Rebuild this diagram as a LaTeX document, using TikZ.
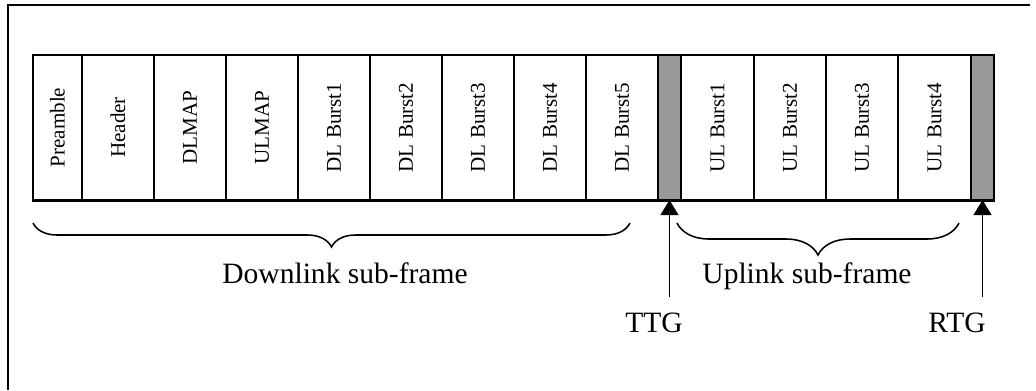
\documentclass[tikz,border=0pt]{standalone}
\usepackage{fontspec}
\setmainfont{Liberation Serif}
\usetikzlibrary{arrows.meta,decorations.pathreplacing}

\tikzset{
  slot/.style = {draw, rotate = 90, line width = 1.4pt, inner sep = 0pt, outer sep = 0pt,
    minimum width = 3.625cm, font = \fontsize{15}{18}\selectfont},
  gap/.style = {draw, fill = black!40, line width = 2.1pt, inner sep = 0pt, outer sep = 0pt,
    minimum width = 0.575cm, minimum height = 3.625cm},
  biglabel/.style = {font = \fontsize{21}{25}\selectfont, inner sep = 0pt, anchor = base},
  gaparrow/.style = {-{Triangle[length = 0.375cm, width = 0.45cm]}, line width = 0.8pt},
  span/.style = {decorate, decoration = {brace, mirror, amplitude = #1}, line width = 1.1pt}
}

\begin{document}
\begin{tikzpicture}[x = 0.025cm, y = -0.025cm]
  \useasboundingbox (0, 0) rectangle (1036, 390);

  % outer frame (only top and left edges show)
  \draw[line width = 1.4pt] (8, 390) -- (8, 5) -- (1030, 5);

  % frame slots
  \foreach \name/\cx/\w/\txt in {pre/57.5/49/Preamble, hdr/118/72/Header,
      dlmap/190/72/DLMAP, ulmap/262/72/ULMAP, dlb1/334/72/DL Burst1,
      dlb2/406/72/DL Burst2, dlb3/478/72/DL Burst3, dlb4/550/72/DL Burst4,
      dlb5/622/72/DL Burst5, ulb1/717.5/73/UL Burst1, ulb2/790/72/UL Burst2,
      ulb3/862/72/UL Burst3, ulb4/934.5/73/UL Burst4}
    \node[slot, minimum height = \w*0.025cm] (\name) at (\cx, 127.5) {\txt};

  % transition gaps
  \node[gap] (ttg) at (669.5, 127.5) {};
  \node[gap] (rtg) at (982.5, 127.5) {};

  \draw[line width = 2.1pt] (33, 55) rectangle (rtg.south east);

  % sub-frame braces
  \coordinate (dlstart) at (33, 223);
  \coordinate (dlend) at (630, 223);
  \coordinate (ulstart) at (677, 223);
  \coordinate (ulend) at (959, 223);
  \draw[span = 0.6cm] (dlstart) -- (dlend);
  \draw[span = 0.8cm] (ulstart) -- (ulend);
  \node[biglabel] (dlname) at (345, 283) {Downlink sub-frame};
  \node[biglabel] (ulname) at (807, 283) {Uplink sub-frame};

  % gap markers
  \coordinate (ttgtail) at (669.5, 297);
  \coordinate (rtgtail) at (982.5, 297);
  \draw[gaparrow] (ttgtail) -- (ttg.south);
  \draw[gaparrow] (rtgtail) -- (rtg.south);
  \node[biglabel] (ttglabel) at (654, 332) {TTG};
  \node[biglabel] (rtglabel) at (957, 332) {RTG};
\end{tikzpicture}
\end{document}
